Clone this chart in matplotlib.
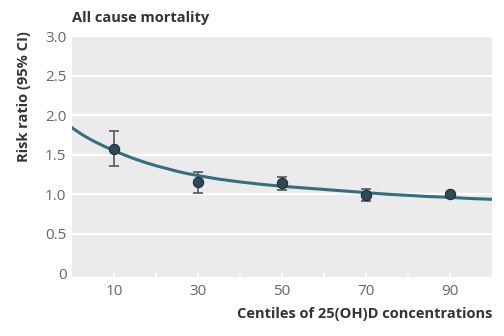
import matplotlib
matplotlib.use("Agg")
import matplotlib.pyplot as plt

plt.rcParams['font.family'] = ['Open Sans', 'DejaVu Sans']

# point estimates with 95% CI
centiles = [10, 30, 50, 70, 90]
rr = [1.57, 1.16, 1.14, 0.99, 1.00]
ci_low = [1.36, 1.02, 1.05, 0.91, 0.98]
ci_high = [1.80, 1.28, 1.22, 1.07, 1.02]

# fitted curve
curve_x = [0, 2.5, 5, 7.5, 10, 12.5, 15, 17.5, 20, 22.5, 25, 27.5, 30, 35, 40, 45,
           50, 55, 60, 65, 70, 75, 80, 85, 90, 95, 100]
curve_y = [1.84, 1.75, 1.675, 1.61, 1.55, 1.495, 1.445, 1.40, 1.36, 1.325, 1.29, 1.26,
           1.235, 1.19, 1.155, 1.125, 1.10, 1.08, 1.06, 1.04, 1.02, 1.00, 0.985, 0.97,
           0.96, 0.945, 0.935]

yticks = [0, 0.5, 1.0, 1.5, 2.0, 2.5, 3.0]
ytick_labels = ['0', '0.5', '1.0', '1.5', '2.0', '2.5', '3.0']

fig = plt.figure(figsize=(5.04, 3.36), dpi=100)
ax = fig.add_axes([72 / 504, 59 / 336, 420 / 504, 241 / 336])
ax.set_facecolor('#ebebeb')

for y in yticks[1:]:
    ax.axhline(y, color='white', lw=1.6, zorder=1)

ax.plot(curve_x, curve_y, color='#32707f', lw=2.2, zorder=2)

err = [[r - l for r, l in zip(rr, ci_low)], [h - r for r, h in zip(rr, ci_high)]]
ax.errorbar(centiles, rr, yerr=err, fmt='none', ecolor='#555555', elinewidth=1.2,
            capsize=3.5, capthick=1.2, zorder=3)
ax.scatter(centiles, rr, s=55, color='#2c4a58', edgecolor='#1c2e38', lw=0.8, zorder=4)

ax.set_xlim(0, 100)
ax.set_ylim(-0.047, 3.0)
ax.set_xticks(centiles)
ax.set_xticks(range(10, 100, 10), minor=True)
ax.set_yticks(yticks)
ax.set_yticklabels(ytick_labels)
ax.tick_params(axis='x', which='both', length=3, width=1.2, color='white', direction='in',
               labelsize=11, labelcolor='#666666', pad=5)
ax.tick_params(axis='y', length=0, labelsize=11, labelcolor='#666666', pad=4)
for s in ax.spines.values():
    s.set_visible(False)

fig.text(72 / 504, 1 - 18 / 336, 'All cause mortality', fontsize=10.5, fontweight='bold',
         color='#333333', va='center', ha='left')
fig.text(24 / 504, 1 - 97 / 336, 'Risk ratio (95% CI)', fontsize=10.5, fontweight='bold',
         color='#333333', rotation=90, va='center', ha='center')
fig.text(492 / 504, 1 - 314 / 336, 'Centiles of 25(OH)D concentrations', fontsize=10.5,
         fontweight='bold', color='#333333', va='center', ha='right')

fig.savefig('out.png', dpi=100)
